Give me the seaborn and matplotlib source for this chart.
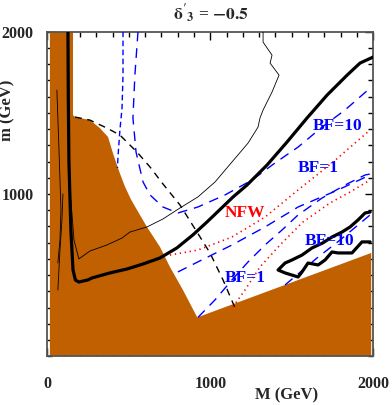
import matplotlib
matplotlib.use("Agg")
import matplotlib.pyplot as plt
from matplotlib.ticker import MultipleLocator
import seaborn as sns

# excluded region (brown)
excl_x = [15, 15, 157, 157, 169, 261, 322, 372, 402, 440, 475, 512, 550, 611, 691, 752, 832, 920, 1988, 1988]
excl_y = [0, 2000, 2000, 1486, 1474, 1455, 1406, 1351, 1252, 1140, 1048, 968, 902, 797, 674, 551, 409, 240, 637, 0]

# thick black contour
thick_x = [126, 128, 132, 144, 157, 172, 193, 249, 273, 384, 488, 587, 691, 795, 893, 980, 1060, 1140, 1225, 1348, 1471, 1594, 1717, 1840, 1919, 1999]
thick_y = [2000, 1600, 1200, 778, 532, 470, 458, 471, 483, 514, 538, 569, 606, 668, 748, 828, 905, 982, 1055, 1178, 1320, 1468, 1609, 1732, 1806, 1843]

# thin black contours
thin_x = [144, 163, 193, 261, 365, 458, 507, 611, 709, 814, 924, 1029, 1133, 1232, 1293, 1305, 1324, 1379, 1422, 1367, 1379, 1324, 1324]
thin_y = [963, 717, 600, 649, 686, 729, 766, 797, 846, 914, 982, 1074, 1197, 1314, 1412, 1468, 1517, 1628, 1732, 1806, 1855, 1935, 2000]
thinA_x = [58, 71, 83, 77, 64]
thinA_y = [1640, 1271, 902, 717, 575]
thinB_x = [64, 77, 89, 95]
thinB_y = [409, 655, 840, 1000]

# black dashed
kd_x = [169, 261, 365, 445, 550, 630, 709, 814, 918, 998, 1078, 1152]
kd_y = [1474, 1455, 1406, 1363, 1258, 1166, 1062, 932, 766, 637, 471, 298]

# blue dashed contours
blueA_x = [464, 464, 458, 445, 433, 430]
blueA_y = [2000, 1732, 1529, 1394, 1228, 1160]
blueB_x = [556, 537, 525, 544, 587, 630, 709, 801, 924, 1090, 1256, 1397, 1539, 1686, 1827, 1981]
blueB_y = [2000, 1732, 1468, 1258, 1074, 994, 920, 883, 920, 994, 1086, 1191, 1289, 1412, 1517, 1652]
blueC_x = [801, 924, 1133, 1336, 1539, 1784, 1981]
blueC_y = [520, 582, 686, 797, 920, 1025, 1117]
blueD_x = [924, 1029, 1133, 1232, 1336, 1440, 1539, 1686, 1827, 1950, 1981]
blueD_y = [240, 348, 471, 582, 686, 778, 871, 975, 1055, 1117, 1123]
blueE_x = [1459, 1655, 1797, 1981]
blueE_y = [440, 606, 717, 871]

# red dotted (NFW)
nfw_x = [752, 924, 1133, 1336, 1539, 1747, 1981]
nfw_y = [624, 655, 735, 858, 1025, 1191, 1394]
red2_x = [1139, 1213, 1305, 1428, 1569, 1735, 1858, 1981]
red2_y = [305, 409, 551, 686, 828, 945, 1012, 1086]

# jagged thick contour
jag_x = [1981, 1950, 1907, 1858, 1809, 1747, 1689, 1625, 1563, 1502, 1459, 1416, 1459, 1539, 1563, 1600, 1662, 1705, 1747, 1784, 1870, 1931, 1981]
jag_y = [889, 883, 840, 797, 766, 735, 698, 668, 624, 594, 575, 532, 514, 489, 520, 575, 563, 594, 643, 637, 637, 705, 705]

labels = ["BF=10", "BF=1", "NFW", "BF=10", "BF=1"]
label_x = [1779, 1662, 1213, 1735, 1213]
label_y = [1418, 1160, 883, 711, 483]
label_c = ["blue", "blue", "red", "blue", "blue"]

sns.set_style("ticks")
plt.rcParams["font.family"] = ["Liberation Serif", "DejaVu Serif"]
plt.rcParams["mathtext.fontset"] = "stix"

fig = plt.figure(figsize=(3.92, 4.05), dpi=100)
ax = fig.add_axes([0.121, 0.120, 0.831, 0.802])

brown = "#c06000"
ax.fill(excl_x, excl_y, color=brown, lw=0, zorder=1)

sns.lineplot(x=thinA_x, y=thinA_y, sort=False, estimator=None, color="black", lw=0.6, ax=ax, zorder=3)
sns.lineplot(x=thinB_x, y=thinB_y, sort=False, estimator=None, color="black", lw=0.6, ax=ax, zorder=3)
sns.lineplot(x=thin_x, y=thin_y, sort=False, estimator=None, color="black", lw=0.6, ax=ax, zorder=3)
sns.lineplot(x=kd_x, y=kd_y, sort=False, estimator=None, color="black", lw=1.0, ax=ax, zorder=3)
ax.lines[-1].set_dashes([5, 4])

for bx, by, dsh in [(blueA_x, blueA_y, [4, 2.5]), (blueB_x, blueB_y, [7, 5]), (blueC_x, blueC_y, [7, 5]),
                    (blueD_x, blueD_y, [7, 5]), (blueE_x, blueE_y, [7, 5])]:
    sns.lineplot(x=bx, y=by, sort=False, estimator=None, color="blue", lw=1.0, ax=ax, zorder=3)
    ax.lines[-1].set_dashes(dsh)

for rx, ry in [(nfw_x, nfw_y), (red2_x, red2_y)]:
    sns.lineplot(x=rx, y=ry, sort=False, estimator=None, color="red", lw=1.2, ax=ax, zorder=3)
    ax.lines[-1].set_dashes([0.8, 2.2])

sns.lineplot(x=thick_x, y=thick_y, sort=False, estimator=None, color="black", lw=2.3, ax=ax, zorder=4)
sns.lineplot(x=jag_x, y=jag_y, sort=False, estimator=None, color="black", lw=2.3, ax=ax, zorder=4)

for t, lx, ly, c in zip(labels, label_x, label_y, label_c):
    ax.text(lx, ly, t, color=c, fontsize=12.5, fontweight="bold", ha="center", va="center", zorder=5)

ax.set_xlim(0, 2000)
ax.set_ylim(0, 2000)
ax.set_xticks([0, 1000, 2000])
ax.set_yticks([1000, 2000])
ax.xaxis.set_minor_locator(MultipleLocator(100))
ax.yaxis.set_minor_locator(MultipleLocator(100))
ax.tick_params(which="both", direction="in", top=True, right=True, color="black", width=1.0)
ax.tick_params(which="major", length=6, labelsize=11.5, pad=14)
ax.tick_params(which="minor", length=3.5)
ax.tick_params(axis="y", which="major", pad=10)
for lbl in ax.get_xticklabels() + ax.get_yticklabels():
    lbl.set_fontweight("bold")
for sp in ax.spines.values():
    sp.set_color("#555555")
    sp.set_linewidth(1.3)

ax.set_xlabel("M (GeV)", fontsize=12, fontweight="bold")
ax.set_ylabel("m (GeV)", fontsize=12, fontweight="bold")
ax.xaxis.set_label_coords(0.735, -0.095)
ax.yaxis.set_label_coords(-0.097, 0.758)
ax.set_title(r"$\mathbf{\delta'_3}$ = $\mathbf{-0.5}$", fontsize=12.5, fontweight="bold", pad=8)

fig.savefig("out.png", dpi=100)
